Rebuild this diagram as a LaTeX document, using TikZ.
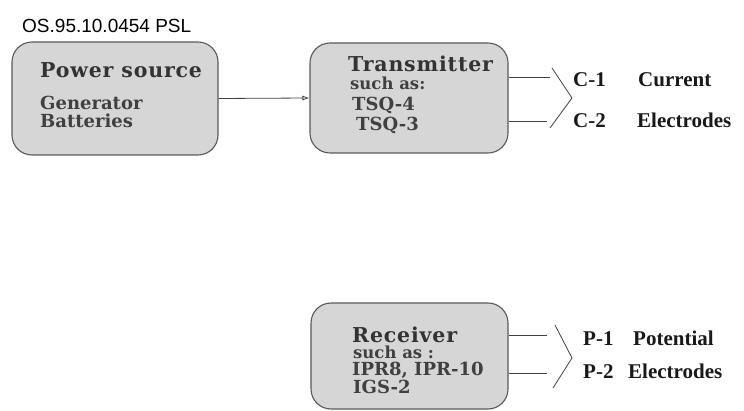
\documentclass[tikz,border=0pt]{standalone}
\usepackage{fontspec}
\setmainfont{Liberation Serif}
\newfontfamily\slab{DejaVu Serif}
\newfontfamily\slabw[LetterSpace=4]{DejaVu Serif}
\newfontfamily\sansf{Liberation Sans}
\usetikzlibrary{arrows.meta}
\tikzset{
  box/.style={draw=black!65, line width=1.1pt, fill=black!16, rounded corners=20pt, inner sep=0pt},
  ttl/.style={anchor=base west, inner sep=0pt, text=black!80, font=\slabw\bfseries\fontsize{20.5}{20.5}\selectfont},
  itm/.style={anchor=base west, inner sep=0pt, text=black!75, font=\slab\bfseries\fontsize{18}{18}\selectfont},
  sub/.style={anchor=base west, inner sep=0pt, text=black!75, font=\slab\bfseries\fontsize{16.5}{16.5}\selectfont},
  lbl/.style={anchor=base west, inner sep=0pt, text=black!90, font=\bfseries\fontsize{21}{21}\selectfont},
  wire/.style={draw=black!75, line width=0.8pt},
}
\begin{document}
\begin{tikzpicture}[x=1pt,y=-1pt]
\useasboundingbox (0,0) rectangle (744,411);
% title
\node[anchor=base west, inner sep=0pt, font=\sansf\fontsize{19}{19}\selectfont] (code) at (22,33) {OS.95.10.0454 PSL};
% boxes
\node[box, minimum width=206pt, minimum height=113pt] (pw) at (115,98.5) {};
\node[box, minimum width=198pt, minimum height=110pt] (tx) at (409,98) {};
\node[box, minimum width=197pt, minimum height=106pt] (rx) at (409.5,356) {};
% power source text
\node[ttl] (pwt) at (40,78) {Power source};
\node[itm] (pw1) at (40,110) {Generator};
\node[itm] (pw2) at (40,128) {Batteries};
% transmitter text
\node[ttl] (txt) at (348,72) {Transmitter};
\node[sub] (tx1) at (350,90) {such as:};
\node[itm] (tx2) at (352,111) {TSQ-4};
\node[itm] (tx3) at (356,131) {TSQ-3};
% receiver text
\node[ttl] (rxt) at (352,343) {Receiver};
\node[sub] (rx1) at (353,359) {such as :};
\node[itm] (rx2) at (352,375) {IPR8, IPR-10};
\node[itm] (rx3) at (353,393) {IGS-2};
% connector
\draw[wire, -{Latex[open, length=7pt, width=5pt]}] (pw.east) -- (tx.west);
% transmitter outputs
\coordinate (c1e) at (550,77);
\coordinate (c2e) at (547,121);
\draw[wire] (tx.east |- c1e) -- (c1e);
\draw[wire] (tx.east |- c2e) -- (c2e);
\coordinate (cbt) at (552,68);
\coordinate (cbv) at (572,98);
\coordinate (cbb) at (550,128);
\draw[wire] (cbt) -- (cbv) -- (cbb);
\node[lbl] (c1) at (573,87) {C-1};
\node[lbl] (cur) at (638,87) {Current};
\node[lbl] (c2) at (573,128) {C-2};
\node[lbl] (el1) at (637,128) {Electrodes};
% receiver outputs
\coordinate (p1e) at (547,335);
\coordinate (p2e) at (547,373);
\draw[wire] (rx.east |- p1e) -- (p1e);
\draw[wire] (rx.east |- p2e) -- (p2e);
\coordinate (pbt) at (555,325);
\coordinate (pbv) at (572,358);
\coordinate (pbb) at (553,388);
\draw[wire] (pbt) -- (pbv) -- (pbb);
\node[lbl] (p1) at (583,345) {P-1};
\node[lbl] (pot) at (633,345) {Potential};
\node[lbl] (p2) at (583,378) {P-2};
\node[lbl] (el2) at (628,378) {Electrodes};
\end{tikzpicture}
\end{document}
